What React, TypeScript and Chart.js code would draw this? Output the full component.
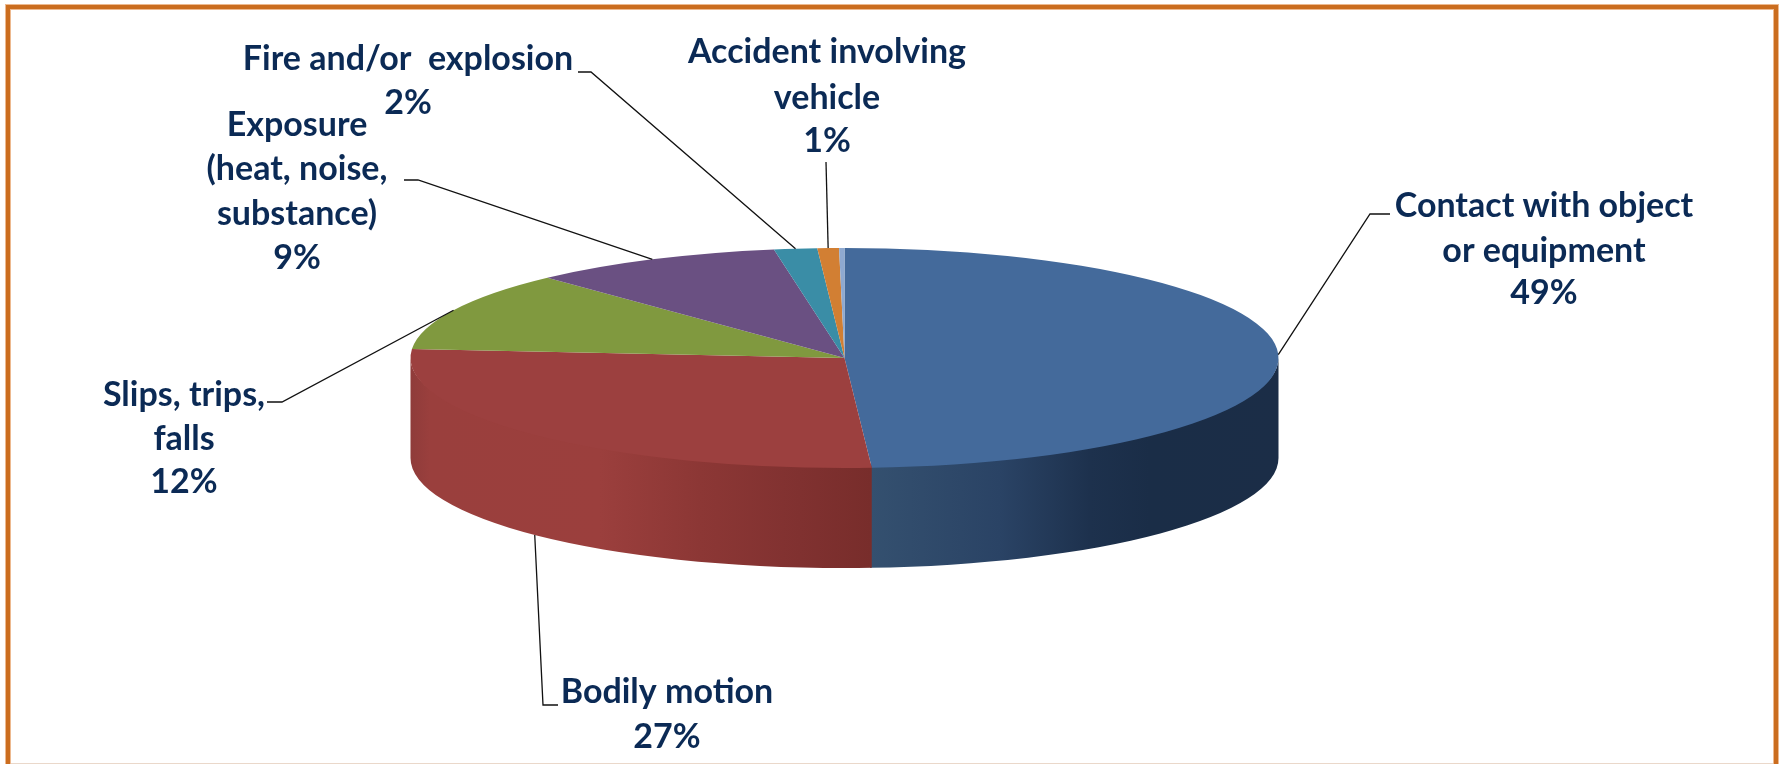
import React, { useEffect, useRef } from "react";
import { Chart, registerables } from "chart.js";

Chart.register(...registerables);

const categories = [
  "Contact with object or equipment",
  "Bodily motion",
  "Slips, trips, falls",
  "Exposure (heat, noise, substance)",
  "Fire and/or explosion",
  "Accident involving vehicle",
  "Other",
];
const values = [49.0, 27.3, 11.7, 9.4, 1.6, 0.8, 0.2];
const sliceColors = ["#446A9B", "#9C403F", "#80993F", "#6A5082", "#3A8DA6", "#D27F33", "#8FA9D0"];
const labelLines = [
  ["Contact with object", "or equipment", "49%"],
  ["Bodily motion", "27%"],
  ["Slips, trips,", "falls", "12%"],
  ["Exposure", "(heat, noise,", "substance)", "9%"],
  ["Fire and/or  explosion", "2%"],
  ["Accident involving", "vehicle", "1%"],
];

// Layout only (pixels on the page)
const W = 1783;
const H = 764;
const PIE = { cx: 844.5, cy: 358, rx: 434, ry: 110, depth: 100 };
const labelLayout = [
  { x: 1544, ys: [206, 251, 293] },
  { x: 667, ys: [692, 737] },
  { x: 184, ys: [395, 439, 482] },
  { x: 297, ys: [125, 169, 214, 258] },
  { x: 408, ys: [59, 103] },
  { x: 827, ys: [52, 98, 141] },
];
const leaderLayout = [
  { text: [1390, 214], elbow: [1370, 214], front: false },
  { text: [558, 705], elbow: [543, 705], front: true },
  { text: [267, 402], elbow: [282, 402], front: false },
  { text: [404, 180], elbow: [418, 180], front: false },
  { text: [578, 72], elbow: [591, 72], front: false },
  { text: [826, 162], elbow: [826, 162], front: false },
];
const wallStops: Record<number, [number, string][]> = {
  0: [[871, "#34506F"], [1000, "#2A4365"], [1090, "#1D314D"], [1150, "#1A2D47"], [1278, "#1B2D47"]],
  1: [[409, "#8E3B3A"], [430, "#9A3F3D"], [600, "#9B3F3D"], [700, "#8C3735"], [800, "#803130"], [871, "#782D2B"]],
};

const piePlugin = {
  id: "flatPie",
  beforeDraw(chart: any) {
    const { ctx } = chart;
    ctx.save();
    ctx.fillStyle = "#FFFFFF";
    ctx.fillRect(0, 0, W, H);
    ctx.fillStyle = "#EDB98F";
    ctx.fillRect(5, 4, W - 10, 6);
    ctx.fillRect(5, 4, 6, H);
    ctx.fillRect(W - 10, 4, 6, H);
    ctx.fillStyle = "#CB6D1F";
    ctx.fillRect(6, 5, W - 12, 4);
    ctx.fillRect(6, 5, 4, H);
    ctx.fillRect(W - 9, 5, 4, H);
    ctx.fillStyle = "#EAD8CA";
    ctx.fillRect(11, H - 1, W - 21, 1);
    ctx.restore();
  },
  beforeDatasetsDraw(chart: any) {
    const { ctx } = chart;
    const arcs = chart.getDatasetMeta(0).data;
    arcs.forEach((arc: any, i: number) => {
      const lo = Math.max(arc.startAngle, 0);
      // a hair of overlap so no pale seam shows between neighbouring walls
      const hi = Math.min(arc.endAngle + 0.004, Math.PI);
      if (hi <= lo || !wallStops[i]) return;
      const stops = wallStops[i];
      const a = stops[0][0];
      const b = stops[stops.length - 1][0];
      const g = ctx.createLinearGradient(a, 0, b, 0);
      stops.forEach(([x, c]) => g.addColorStop((x - a) / (b - a), c));
      ctx.beginPath();
      ctx.ellipse(PIE.cx, PIE.cy, PIE.rx, PIE.ry - 4, 0, lo, hi);
      ctx.ellipse(PIE.cx, PIE.cy + PIE.depth, PIE.rx, PIE.ry, 0, hi, lo, true);
      ctx.closePath();
      ctx.fillStyle = g;
      ctx.fill();
    });
    const first = arcs[0];
    const R = first.outerRadius;
    ctx.save();
    ctx.translate(PIE.cx, PIE.cy);
    ctx.scale(PIE.rx / R, PIE.ry / R);
    ctx.translate(-first.x, -first.y);
  },
  afterDatasetsDraw(chart: any) {
    const { ctx } = chart;
    ctx.restore();
    const arcs = chart.getDatasetMeta(0).data;
    ctx.save();
    ctx.strokeStyle = "#111111";
    ctx.lineWidth = 1.3;
    leaderLayout.forEach((l, i) => {
      const mid = (arcs[i].startAngle + arcs[i].endAngle) / 2;
      const ax = PIE.cx + PIE.rx * Math.cos(mid);
      const ay = PIE.cy + PIE.ry * Math.sin(mid) + (l.front ? PIE.depth : 0);
      ctx.beginPath();
      ctx.moveTo(l.text[0], l.text[1]);
      ctx.lineTo(l.elbow[0], l.elbow[1]);
      ctx.lineTo(ax, ay);
      ctx.stroke();
    });
    ctx.fillStyle = "#0B2A55";
    ctx.font = 'bold 34px Lato, "Noto Sans", sans-serif';
    ctx.textAlign = "center";
    ctx.textBaseline = "middle";
    labelLines.forEach((lines, i) => {
      lines.forEach((t, j) => ctx.fillText(t, labelLayout[i].x, labelLayout[i].ys[j]));
    });
    ctx.restore();
  },
};

export default function App() {
  const ref = useRef<HTMLCanvasElement>(null);
  useEffect(() => {
    const chart = new Chart(ref.current as HTMLCanvasElement, {
      type: "pie",
      data: {
        labels: categories,
        datasets: [{ data: values, backgroundColor: sliceColors, borderWidth: 0 }],
      },
      options: {
        responsive: false,
        animation: false,
        rotation: 0,
        plugins: { legend: { display: false }, tooltip: { enabled: false } },
      },
      plugins: [piePlugin],
    } as any);
    return () => chart.destroy();
  }, []);
  return (
    <canvas
      ref={ref}
      width={W}
      height={H}
      style={{ position: "fixed", left: 0, top: 0, width: W, height: H, display: "block" }}
    />
  );
}
